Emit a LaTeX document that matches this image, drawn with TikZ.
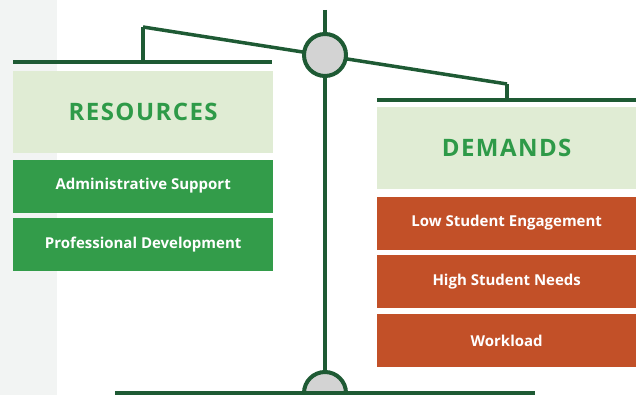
\documentclass[tikz,border=0pt]{standalone}
\usepackage{fontspec}
\setmainfont{Open Sans}
\newfontfamily\headfont[LetterSpace=6]{Open Sans}
\usepackage{tikz}
\usetikzlibrary{
    positioning,
    calc
}
\definecolor{beamGreen}{RGB}{30, 90, 52}
\definecolor{resGreen}{RGB}{51, 156, 74}
\definecolor{headGreen}{RGB}{46, 154, 72}
\definecolor{paleGreen}{RGB}{224, 236, 212}
\definecolor{demRed}{RGB}{194, 80, 40}
\definecolor{pivotGray}{RGB}{211, 211, 211}
\definecolor{stripGray}{RGB}{242, 244, 243}

\tikzset{
    headbox/.style={fill=paleGreen, text=headGreen, inner sep=0pt,
        minimum width=260pt, minimum height=82pt,
        font=\headfont\fontsize{24}{28}\selectfont\bfseries},
    resbox/.style={fill=resGreen, text=white, inner sep=0pt,
        minimum width=260pt, minimum height=53pt,
        font=\fontsize{15}{18}\selectfont\bfseries},
    dembox/.style={resbox, fill=demRed},
    beam/.style={beamGreen, line width=4pt},
    pivot/.style={beamGreen, line width=4pt, fill=pivotGray}
}

\begin{document}
\begin{tikzpicture}[x=1pt, y=-1pt]
    \useasboundingbox (0,0) rectangle (640,395);
    % background strip on the left
    \fill[stripGray] (0,0) rectangle (57,395);

    \coordinate (Top) at (325,10);
    \coordinate (Hub) at (325,55);
    \coordinate (Foot) at (325,393);
    \coordinate (LeftHang) at (143,27);
    \coordinate (RightHang) at (507,84);

    % pole and base
    \draw[beam] (Top) -- (Foot);
    \draw[pivot] (Foot) circle[radius=21];
    \draw[beam] (115,393) -- (535,393);

    % tilted beam with its two hangers
    \draw[beam, line width=3.5pt] (LeftHang) -- (RightHang);
    \draw[beam, line width=3.5pt] (LeftHang) -- (143,62);
    \draw[beam, line width=3.5pt] (RightHang) -- (507,100);
    \draw[beam] (13,62) -- (272,62);
    \draw[beam] (377,100) -- (636,100);
    \draw[pivot] (Hub) circle[radius=21];

    % resources side
    \node[headbox, anchor=north west] (Res) at (13,71) {RESOURCES};
    \node[resbox, below=6pt of Res] (Admin) {Administrative Support};
    \node[resbox, below=5pt of Admin] (ProfDev) {Professional Development};

    % demands side
    \node[headbox, anchor=north west, minimum width=259pt] (Dem) at (377,107) {DEMANDS};
    \node[dembox, minimum width=259pt, below=7pt of Dem] (Engage) {Low Student Engagement};
    \node[dembox, minimum width=259pt, below=5pt of Engage] (Needs) {High Student Needs};
    \node[dembox, minimum width=259pt, below=6pt of Needs] (Load) {Workload};
\end{tikzpicture}
\end{document}
